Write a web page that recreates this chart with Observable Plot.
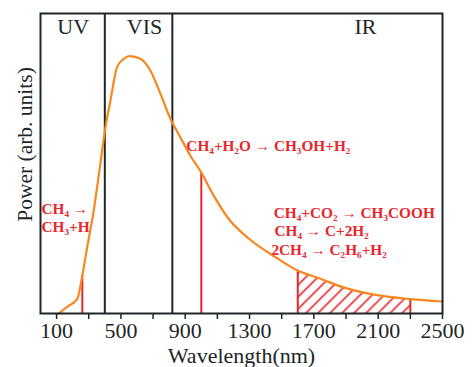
<!DOCTYPE html>
<html><head><meta charset="utf-8">
<script src="https://cdn.jsdelivr.net/npm/d3@7"></script>
<script src="https://cdn.jsdelivr.net/npm/@observablehq/plot@0.6"></script>
<style>body{margin:0;background:#fff}</style>
</head><body><div id="chart"></div>
<script>
// Solar-like spectrum curve
const wavelength = [113, 170, 228, 260, 290, 331, 358, 404, 435, 476, 518, 555, 621, 683, 746, 808, 870, 932, 1000, 1077, 1171, 1295, 1470, 1600, 1741, 1884, 2094, 2300, 2500];
const power      = [0,   2.4, 4.8, 12.6, 22.0, 34.3, 44.3, 62.1, 71.0, 82.1, 84.9, 85.8, 84.9, 81.0, 73.2, 64.9, 58.7, 52.6, 47.0, 39.3, 31.5, 25.0, 18.5, 14.3, 11.6, 8.7, 6.1, 4.8, 4.0];

// Region boundaries and labels
const regionBounds = [400, 820];
const regionLabels = ["UV", "VIS", "IR"];
const regionLabelX = [203, 647, 2021];
const regionLabelY = 93.2;

// Reaction marker lines
const markerX = [260, 1000, 1600, 2300];
const markerY = [12.6, 47.0, 14.3, 4.8];

// Hatched band
const bandRange = [1600, 2300];

// Reaction annotations
const reactionText = ["CH\u2084 \u2192", "CH\u2083+H", "CH\u2084+H\u2082O \u2192 CH\u2083OH+H\u2082", "CH\u2084+CO\u2082 \u2192 CH\u2083COOH", "CH\u2084 \u2192 C+2H\u2082", "2CH\u2084 \u2192 C\u2082H\u2086+H\u2082"];
const reactionX = [6, 6, 907, 1451, 1455, 1436];
const reactionY = [33.2, 27.3, 54.3, 32.0, 25.9, 19.6];

// Axis ticks
const tickValues = d3.range(100, 2501, 200);
const labeledTicks = [100, 500, 900, 1300, 1700, 2100, 2500];

const curve = wavelength.map((w, i) => ({w, p: power[i]}));
const band = curve.filter(d => d.w >= bandRange[0] && d.w <= bandRange[1]);
const markers = markerX.map((x, i) => ({x, y: markerY[i]}));
const regions = regionLabels.map((t, i) => ({t, x: regionLabelX[i]}));
const reactions = reactionText.map((t, i) => ({t, x: reactionX[i], y: reactionY[i]}));

const RED = "#e8262b", ORANGE = "#f7871f", DARK = "#1c2626";

const plot = Plot.plot({
  width: 473, height: 367,
  marginLeft: 40, marginRight: 31, marginTop: 13, marginBottom: 54,
  style: {fontFamily: "'Liberation Serif', 'Times New Roman', serif", color: DARK, background: "#fff"},
  x: {domain: [0, 2500]},
  y: {domain: [0, 100], axis: null},
  marks: [
    Plot.areaY(band, {x: "w", y: "p", fill: "url(#hatch)", curve: "monotone-x"}),
    Plot.ruleX(markers, {x: "x", y1: 0, y2: "y", stroke: RED, strokeWidth: 2}),
    Plot.ruleX(regionBounds, {stroke: DARK, strokeWidth: 2}),
    Plot.line(curve, {x: "w", y: "p", stroke: ORANGE, strokeWidth: 2.2, curve: "monotone-x"}),
    Plot.frame({stroke: DARK, strokeWidth: 2}),
    Plot.axisX({ticks: tickValues, tickSize: 6, tickPadding: 3, fontSize: 22,
      tickFormat: d => labeledTicks.includes(d) ? String(d) : "",
      label: null, strokeWidth: 1.5}),
    Plot.text(["Wavelength(nm)"], {frameAnchor: "bottom", dy: 49.5, lineAnchor: "bottom", fontSize: 22, fill: DARK}),
    Plot.text(["Power (arb. units)"], {frameAnchor: "left", dx: -9, dy: -19, rotate: -90, textAnchor: "middle", lineAnchor: "bottom", fontSize: 21.5, fill: DARK}),
    Plot.text(regions, {x: "x", y: regionLabelY, text: "t", lineAnchor: "bottom", fontSize: 22, fill: DARK}),
    Plot.text(reactions, {x: "x", y: "y", text: "t", textAnchor: "start", lineAnchor: "bottom", fontSize: 15.3, fontWeight: "bold", fill: RED})
  ]
});

const svg = d3.select(plot);
const pat = svg.insert("defs", ":first-child").append("pattern")
  .attr("id", "hatch").attr("patternUnits", "userSpaceOnUse")
  .attr("width", 8.5).attr("height", 8.5).attr("patternTransform", "rotate(45)");
pat.append("line").attr("x1", 4.25).attr("y1", 0).attr("x2", 4.25).attr("y2", 8.5)
  .attr("stroke", RED).attr("stroke-width", 1.6);

document.getElementById("chart").append(plot);
</script>
</body></html>
